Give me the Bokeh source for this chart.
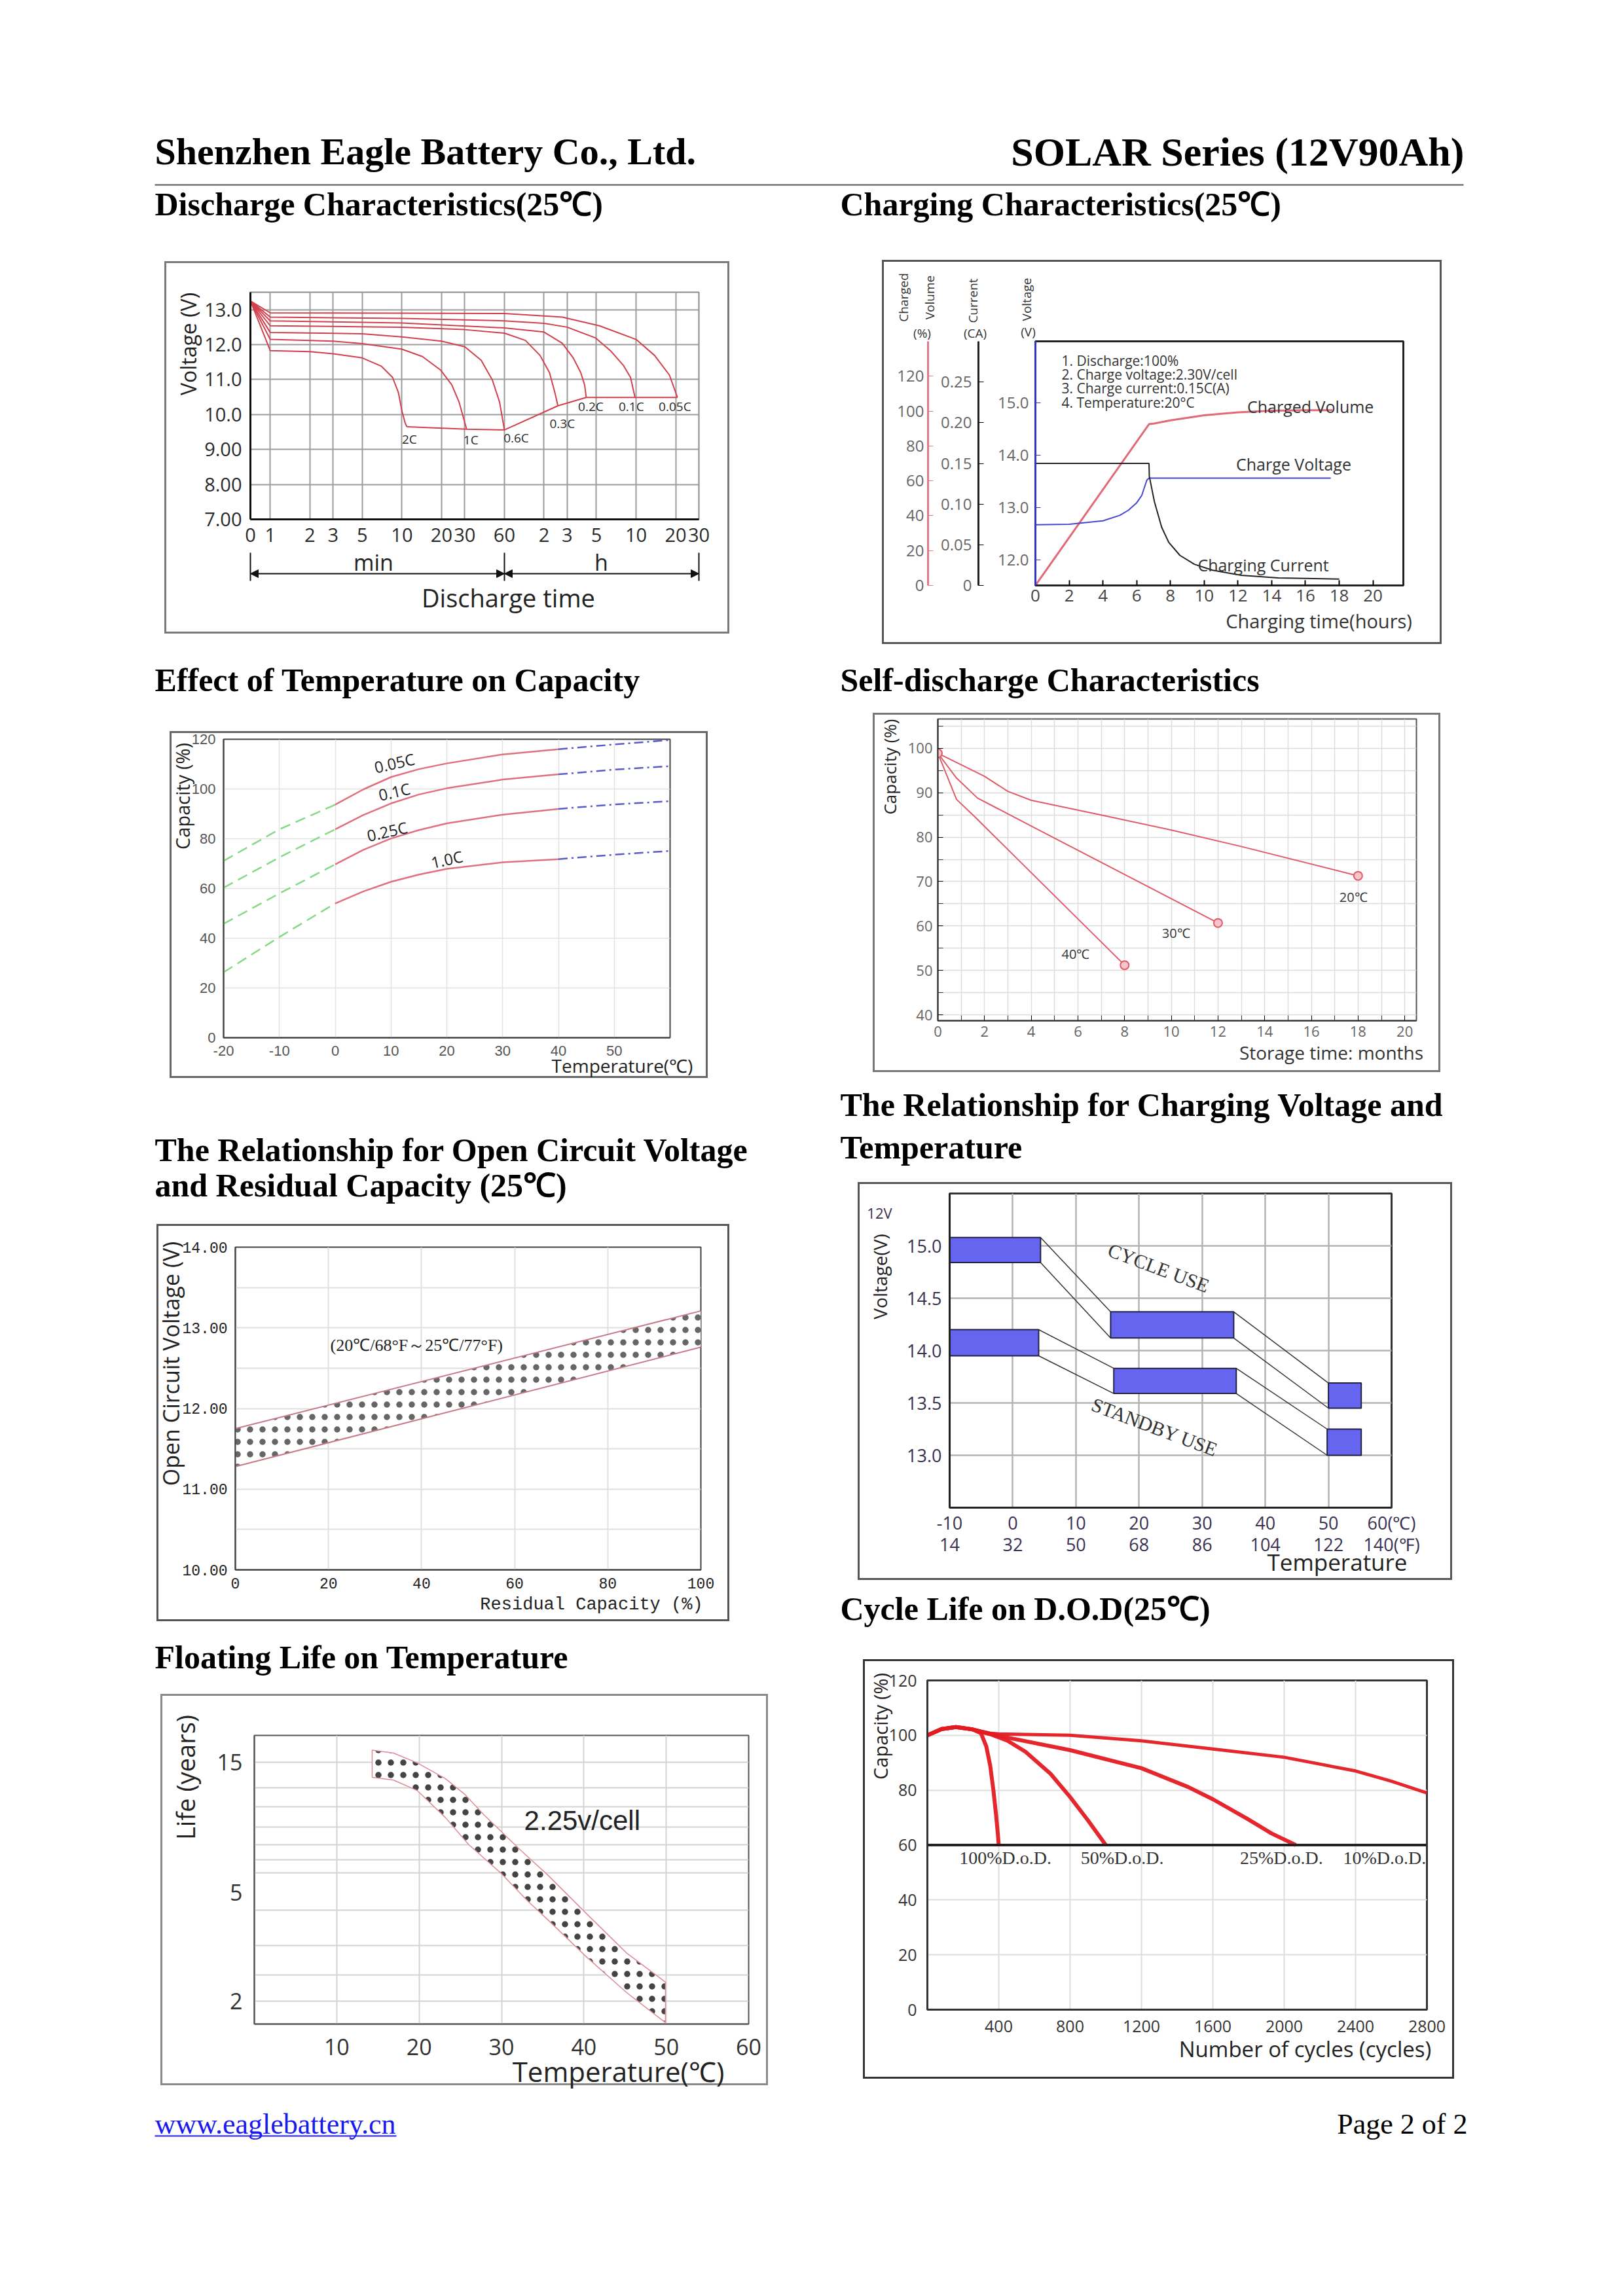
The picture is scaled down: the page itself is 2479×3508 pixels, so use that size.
import math
import numpy as np
from bokeh.plotting import figure
from bokeh.models import Range1d, LinearAxis, FixedTicker, Spacer, Arrow, NormalHead, Span, GridBox
from bokeh.layouts import column, row
from bokeh.core.properties import value
from bokeh.embed import file_html
from bokeh.resources import INLINE

SANS = "Open Sans"
SERIF = "Liberation Serif"
MONO = "Liberation Mono"
ARIAL = "Liberation Sans"

# ============================ DATA ============================
COMPANY = "Shenzhen Eagle Battery Co., Ltd."
SERIES = "SOLAR Series (12V90Ah)"
T_DIS = "Discharge Characteristics(25℃)"
T_CHG = "Charging Characteristics(25℃)"
T_TEMP = "Effect of Temperature on Capacity"
T_SELF = "Self-discharge Characteristics"
T_OCV = ["The Relationship for Open Circuit Voltage", "and Residual Capacity (25℃)"]
T_CVT = ["The Relationship for Charging Voltage and", "Temperature"]
T_FLOAT = "Floating Life on Temperature"
T_CYCLE = "Cycle Life on D.O.D(25℃)"
FOOT_LINK = "www.eaglebattery.cn"
FOOT_PAGE = "Page 2 of 2"

# 1) discharge characteristics (time in minutes, log axis; first tick = "0")
DIS_TICKS = [0.707, 1, 2, 3, 5, 10, 20, 30, 60, 120, 180, 300, 600, 1200, 1800]
DIS_TICK_LABELS = ["0", "1", "2", "3", "5", "10", "20", "30", "60", "2", "3", "5", "10", "20", "30"]
DIS_VTICKS = [7, 8, 9, 10, 11, 12, 13]
DIS_VLABELS = ["7.00", "8.00", "9.00", "10.0", "11.0", "12.0", "13.0"]
DIS_VRANGE = [7, 13.5]
DIS_RATES = ["2C", "1C", "0.6C", "0.3C", "0.2C", "0.1C", "0.05C"]
DIS_T = [
    [0.707, 1, 2, 3, 5, 7, 8.5, 9.4, 10, 10.6, 10.9],
    [0.707, 1, 3, 5, 10, 14.3, 19.7, 23.9, 27.2, 29.9, 31],
    [0.707, 1, 5, 10, 20, 30, 40, 48.6, 55.2, 60],
    [0.707, 1, 10, 30, 60, 86.7, 112, 132, 145, 153],
    [0.707, 1, 10, 60, 120, 165, 200, 228, 244, 251],
    [0.707, 1, 10, 60, 120, 180, 296, 383, 480, 545, 589],
    [0.707, 1, 10, 60, 165, 316, 600, 830, 1075, 1237],
]
DIS_V = [
    [13.25, 11.83, 11.80, 11.74, 11.62, 11.38, 11.06, 10.63, 10.10, 9.75, 9.65],
    [13.25, 12.15, 12.10, 12.03, 11.87, 11.66, 11.27, 10.85, 10.35, 9.79, 9.58],
    [13.25, 12.35, 12.31, 12.22, 12.10, 11.94, 11.55, 10.99, 10.35, 9.56],
    [13.25, 12.54, 12.50, 12.43, 12.33, 12.12, 11.69, 11.20, 10.63, 10.25],
    [13.25, 12.68, 12.62, 12.48, 12.36, 12.04, 11.62, 11.20, 10.85, 10.49],
    [13.25, 12.79, 12.75, 12.68, 12.61, 12.50, 12.19, 11.83, 11.41, 11.06, 10.49],
    [13.25, 12.91, 12.90, 12.89, 12.79, 12.54, 12.15, 11.69, 11.13, 10.49],
]
DIS_LAB_T = [11.4, 33.4, 73.8, 165, 272, 552, 1183]
DIS_LAB_V = [9.29, 9.28, 9.33, 9.75, 10.23, 10.23, 10.23]

# 2) charging characteristics
CH_TRANGE = [0, 21.8]
CH_TTICKS = [0, 2, 4, 6, 8, 10, 12, 14, 16, 18, 20]
CH_VRANGE = [11.51, 16.175]
CH_VTICKS = [12, 13, 14, 15]
CH_VLABELS = ["12.0", "13.0", "14.0", "15.0"]
CUR_RANGE = [0, 0.30]
CUR_TICKS = [0, 0.05, 0.10, 0.15, 0.20, 0.25]
CUR_LABELS = ["0", "0.05", "0.10", "0.15", "0.20", "0.25"]
VOL_RANGE = [0, 140]
VOL_TICKS = [0, 20, 40, 60, 80, 100, 120]
CV_T = [0, 2, 4, 5, 5.5, 6, 6.3, 6.6, 6.73, 17.5]
CV_V = [12.67, 12.68, 12.745, 12.85, 12.945, 13.09, 13.23, 13.52, 13.56, 13.56]
CC_T = [0, 6.73, 6.75, 7.05, 7.48, 7.9, 8.56, 9.42, 10.5, 12.2, 14.4, 18]
CC_A = [0.15, 0.15, 0.134, 0.103, 0.0716, 0.053, 0.037, 0.026, 0.0187, 0.0125, 0.0093, 0.0078]
CVOL_T = [0, 6.73, 7, 8, 10, 12, 14, 16, 17.6]
CVOL_P = [0, 92.5, 92.8, 94.7, 97.6, 99.3, 100.2, 100.5, 100.5]
CH_NOTES = ["1. Discharge:100%", "2. Charge voltage:2.30V/cell", "3. Charge current:0.15C(A)",
            "4. Temperature:20°C"]

# 3) effect of temperature on capacity
TC_T = [-20, -10, 0, 5, 10, 15, 20, 30, 40, 50, 60]
TC_RATES = ["0.05C", "0.1C", "0.25C", "1.0C"]
TC_CAP = [
    [71.1, 83.8, 93.7, 99.8, 104.8, 108.0, 110.3, 113.9, 116.0, 117.9, 119.7],
    [60.3, 72.5, 83.8, 89.5, 94.2, 97.8, 100.3, 103.8, 105.9, 107.8, 109.2],
    [45.8, 58.0, 69.7, 75.5, 80.1, 83.5, 86.2, 89.7, 92.0, 93.8, 95.1],
    [26.3, 40.5, 54.0, 58.8, 62.7, 65.6, 67.9, 70.5, 71.8, 73.6, 75.1],
]
TC_LAB_T = [10.6, 10.6, 9.3, 20.0]
TC_LAB_C = [110.5, 99.0, 83.0, 71.8]
TC_XTICKS = [-20, -10, 0, 10, 20, 30, 40, 50]
TC_XLABELS = ["-20", "-10", "0", "10", "20", "30", "40", "50"]
TC_YTICKS = [0, 20, 40, 60, 80, 100, 120]

# 4) self-discharge
SD_LABELS = ["20℃", "30℃", "40℃"]
SD_T = [[0, 2, 3, 4, 7, 10, 13, 18],
        [0, 0.8, 1.7, 4, 8, 12],
        [0, 0.8, 1.6, 4, 8]]
SD_C = [[98.9, 93.7, 90.3, 88.3, 85.0, 81.6, 77.9, 71.3],
        [98.9, 93.3, 88.8, 82.5, 71.6, 60.7],
        [98.9, 88.5, 84.5, 72.0, 51.2]]
SD_LAB_T = [17.8, 10.2, 5.9]
SD_LAB_C = [66.6, 58.4, 53.7]
SD_XTICKS = [0, 2, 4, 6, 8, 10, 12, 14, 16, 18, 20]
SD_YTICKS = [40, 50, 60, 70, 80, 90, 100]

# 5) open circuit voltage vs residual capacity
OCV_X = [0, 100]
OCV_HI = [11.75, 13.21]
OCV_LO = [11.28, 12.76]
OCV_XTICKS = [0, 20, 40, 60, 80, 100]
OCV_YTICKS = [10, 11, 12, 13, 14]
OCV_YLABELS = ["10.00", "11.00", "12.00", "13.00", "14.00"]
OCV_NOTE = "(20℃/68°F～25℃/77°F)"

# 6) charging voltage vs temperature
CVT_CTICKS = [-10, 0, 10, 20, 30, 40, 50, 60]
CVT_CLABELS = ["-10", "0", "10", "20", "30", "40", "50", "60(℃)"]
CVT_FLABELS = ["14", "32", "50", "68", "86", "104", "122", "140(℉)"]
CVT_VTICKS = [13.0, 13.5, 14.0, 14.5, 15.0]
CVT_VLABELS = ["13.0", "13.5", "14.0", "14.5", "15.0"]
CYC_T0 = [-10, 15.5, 50.0]
CYC_T1 = [4.4, 35.0, 55.2]
CYC_V0 = [14.84, 14.12, 13.45]
CYC_V1 = [15.08, 14.37, 13.69]
STB_T0 = [-10, 16.0, 49.8]
STB_T1 = [4.1, 35.4, 55.2]
STB_V0 = [13.95, 13.59, 13.00]
STB_V1 = [14.20, 13.83, 13.25]

# 7) floating life
FL_UP_T = [14.3, 16.9, 19.8, 23.2, 25.6, 27.9, 29.9, 32.2, 35.6, 40.4, 45.2, 49.9]
FL_UP_L = [16.6, 16.2, 14.9, 13.05, 11.4, 9.6, 8.4, 7.2, 5.8, 4.16, 3.0, 2.35]
FL_LO_T = [14.3, 16.9, 19.8, 23.2, 26.0, 29.9, 33.2, 35.6, 40.4, 45.2, 49.9]
FL_LO_L = [13.2, 12.9, 11.8, 9.4, 7.5, 5.9, 4.65, 3.98, 2.89, 2.15, 1.67]
FL_XTICKS = [10, 20, 30, 40, 50, 60]
FL_YTICKS = [2, 5, 15]
FL_YGRID = [2, 2.5, 3.2, 4.3, 5.9, 6.6, 7.5, 8.7, 10.3, 12.1, 15]

# 8) cycle life on DOD
CL_LABELS = ["100%D.o.D.", "50%D.o.D.", "25%D.o.D.", "10%D.o.D."]
CL_N = [[0, 80, 160, 250, 300, 330, 352, 370, 385, 395, 400],
        [0, 80, 160, 250, 350, 450, 550, 690, 800, 900, 1000],
        [0, 80, 160, 250, 350, 400, 800, 1200, 1460, 1600, 1790, 1930, 2065],
        [0, 80, 160, 250, 350, 400, 800, 1200, 1600, 2000, 2400, 2600, 2800]]
CL_C = [[100, 102.3, 103, 102.2, 100.8, 96, 89, 80, 71, 64, 60],
        [100, 102.3, 103, 102.2, 100.5, 98, 94, 86, 77.5, 69, 60],
        [100, 102.3, 103, 102.2, 100.5, 99.8, 94.6, 88, 81.2, 76.7, 69.7, 64.2, 60],
        [100, 102.3, 103, 102.2, 100.8, 100.5, 100, 98, 95, 92, 87, 83.3, 79]]
CL_LAB_N = [437, 1092, 1985, 2563]
CL_LIMIT = 60
CL_XTICKS = [400, 800, 1200, 1600, 2000, 2400, 2800]
CL_YTICKS = [0, 20, 40, 60, 80, 100, 120]


# ============================ HELPERS ============================
def make_chart(w, h, bl, br, bt, bb, box="#666666", **kw):
    return figure(width=w, height=h, output_backend="svg", toolbar_location=None,
                  min_border_left=bl, min_border_right=br, min_border_top=bt, min_border_bottom=bb,
                  border_fill_color=None, background_fill_color="white",
                  styles={"outline": "3px solid " + box, "outline-offset": "-3px"}, **kw)


def style_axis(ax, font, size, color="#333333", line_color="#222222", line_width=2):
    ax.major_label_text_font = font
    ax.major_label_text_font_size = size
    ax.major_label_text_color = color
    ax.axis_line_color = line_color
    ax.axis_line_width = line_width
    ax.minor_tick_line_color = None


def hidden_pad(ax, pad):
    ax.axis_label = "."
    ax.axis_label_text_alpha = 0
    ax.axis_label_text_font_size = "2px"
    ax.axis_label_standoff = pad


# ============================ 1 DISCHARGE ============================
p1 = make_chart(863, 569, 131, 47, 47, 175, box="#7a7a7a", x_axis_type="log",
                x_range=Range1d(DIS_TICKS[0], DIS_TICKS[-1]),
                y_range=Range1d(DIS_VRANGE[0], DIS_VRANGE[1]))
p1.xaxis.ticker = FixedTicker(ticks=DIS_TICKS, minor_ticks=[])
p1.xgrid.ticker = FixedTicker(ticks=DIS_TICKS, minor_ticks=[])
p1.xaxis.major_label_overrides = dict(zip(DIS_TICKS, DIS_TICK_LABELS))
p1.yaxis.ticker = FixedTicker(ticks=DIS_VTICKS, minor_ticks=[])
p1.ygrid.ticker = FixedTicker(ticks=DIS_VTICKS, minor_ticks=[])
p1.yaxis.major_label_overrides = dict(zip(DIS_VTICKS, DIS_VLABELS))
for ax in (p1.xaxis[0], p1.yaxis[0]):
    style_axis(ax, SANS, "29px", "#2a2a2a", "#111111", 3)
    ax.major_tick_line_color = None
    ax.major_label_standoff = 7
p1.grid.grid_line_color = "#9c9c9c"
p1.grid.grid_line_width = 2
p1.outline_line_color = "#8c8c8c"
p1.outline_line_width = 2
RED1 = "#d2404e"
for t, v in zip(DIS_T, DIS_V):
    p1.line(t, v, line_color=RED1, line_width=2)
p1.line([t[-1] for t in DIS_T], [v[-1] for v in DIS_V], line_color=RED1, line_width=2)
p1.text(DIS_LAB_T, DIS_LAB_V, DIS_RATES, text_font=value(SANS), text_font_size="19px",
        text_color="#2a2a2a", text_align="center", text_baseline="middle")

# ============================ 2 CHARGING ============================
p2 = make_chart(855, 587, 234, 59, 124, 90, box="#555555",
                x_range=Range1d(CH_TRANGE[0], CH_TRANGE[1]),
                y_range=Range1d(CH_VRANGE[0], CH_VRANGE[1]))
p2.extra_y_ranges = {"cur": Range1d(CUR_RANGE[0], CUR_RANGE[1]),
                     "vol": Range1d(VOL_RANGE[0], VOL_RANGE[1])}
p2.grid.visible = False
p2.outline_line_color = "#222222"
p2.outline_line_width = 3
xa = p2.xaxis[0]
xa.ticker = FixedTicker(ticks=CH_TTICKS, minor_ticks=[])
style_axis(xa, SANS, "26px", "#444444", "#222222", 3)
xa.major_tick_in = 8
xa.major_tick_out = 0
xa.major_tick_line_width = 2
xa.major_label_standoff = 6
BLUE2 = "#3535c8"
ya = p2.yaxis[0]
ya.ticker = FixedTicker(ticks=CH_VTICKS, minor_ticks=[])
ya.major_label_overrides = dict(zip(CH_VTICKS, CH_VLABELS))
style_axis(ya, SANS, "24px", "#666666", BLUE2, 3)
ya.major_tick_line_color = BLUE2
ya.major_tick_in = 8
ya.major_tick_out = 0
ya.major_label_standoff = 10
hidden_pad(ya, 23)
cur_ax = LinearAxis(y_range_name="cur", ticker=FixedTicker(ticks=CUR_TICKS, minor_ticks=[]),
                    major_label_overrides=dict(zip(CUR_TICKS, CUR_LABELS)))
style_axis(cur_ax, SANS, "24px", "#666666", "#222222", 3)
cur_ax.major_tick_in = 8
cur_ax.major_tick_out = 0
cur_ax.major_label_standoff = 10
hidden_pad(cur_ax, 13)
vol_ax = LinearAxis(y_range_name="vol", ticker=FixedTicker(ticks=VOL_TICKS, minor_ticks=[]))
style_axis(vol_ax, SANS, "24px", "#666666", "#e07a88", 3)
vol_ax.major_tick_line_color = "#e07a88"
vol_ax.major_tick_in = 8
vol_ax.major_tick_out = 0
vol_ax.major_label_standoff = 6
p2.add_layout(cur_ax, "left")
p2.add_layout(vol_ax, "left")
p2.line(CVOL_T, CVOL_P, y_range_name="vol", line_color="#e06a78", line_width=3)
p2.line(CV_T, CV_V, line_color="#4545d0", line_width=2)
p2.line(CC_T, CC_A, y_range_name="cur", line_color="#222222", line_width=2)
p2.text([1.55] * 4, [15.81, 15.54, 15.275, 15.0], CH_NOTES, text_font=value(SANS),
        text_font_size="21px", text_color="#333333", text_baseline="middle")
p2.text([16.3, 15.3, 13.5], [14.93, 13.83, 11.91],
        ["Charged Volume", "Charge Voltage", "Charging Current"], text_font=value(SANS),
        text_font_size="25px", text_color="#333333", text_align="center", text_baseline="middle")

# ============================ 3 TEMPERATURE ============================
p3 = make_chart(822, 530, 82, 58, 12, 62, box="#666666",
                x_range=Range1d(-20, 60), y_range=Range1d(0, 120))
p3.xaxis.ticker = FixedTicker(ticks=TC_XTICKS, minor_ticks=[])
p3.xaxis.major_label_overrides = dict(zip(TC_XTICKS, TC_XLABELS))
p3.xgrid.ticker = FixedTicker(ticks=TC_XTICKS + [60], minor_ticks=[])
p3.yaxis.ticker = FixedTicker(ticks=TC_YTICKS, minor_ticks=[])
for ax in (p3.xaxis[0], p3.yaxis[0]):
    style_axis(ax, ARIAL, "22px", "#555555", "#444444", 2)
    ax.major_tick_line_color = None
    ax.major_label_standoff = 6
p3.grid.grid_line_color = "#e2e2e2"
p3.grid.grid_line_width = 1.5
p3.outline_line_color = "#444444"
p3.outline_line_width = 2
tt = np.array(TC_T)
for cap in TC_CAP:
    c = np.array(cap)
    m = tt <= 0
    p3.line(tt[m], c[m], line_color="#86d986", line_width=2.5, line_dash="16 9")
    m = (tt >= 0) & (tt <= 40)
    p3.line(tt[m], c[m], line_color="#e0707e", line_width=2.5)
    m = tt >= 40
    p3.line(tt[m], c[m], line_color="#5a5ac8", line_width=2.5, line_dash="14 6 3 6")
p3.text(TC_LAB_T, TC_LAB_C, TC_RATES, text_font=value(SANS), text_font_size="24px",
        text_color="#222222", text_align="center", text_baseline="middle", angle=0.22)

# ============================ 4 SELF DISCHARGE ============================
p4 = make_chart(867, 549, 99, 37, 9, 79, box="#777777",
                x_range=Range1d(0, 20.5), y_range=Range1d(38.7, 106.6))
p4.xaxis.ticker = FixedTicker(ticks=SD_XTICKS, minor_ticks=list(range(1, 21, 2)))
p4.yaxis.ticker = FixedTicker(ticks=SD_YTICKS, minor_ticks=list(range(45, 106, 10)))
p4.xgrid.ticker = FixedTicker(ticks=list(range(0, 21)), minor_ticks=[])
p4.ygrid.ticker = FixedTicker(ticks=list(range(40, 106, 5)), minor_ticks=[])
for ax in (p4.xaxis[0], p4.yaxis[0]):
    style_axis(ax, SANS, "22px", "#666666", "#333333", 2)
    ax.major_tick_in = 8
    ax.major_tick_out = 0
    ax.minor_tick_line_color = "#333333"
    ax.minor_tick_in = 8
    ax.minor_tick_out = 0
    ax.major_label_standoff = 8
p4.grid.grid_line_color = "#dcdcdc"
p4.grid.grid_line_width = 1.5
p4.outline_line_color = "#555555"
p4.outline_line_width = 2
for t, c in zip(SD_T, SD_C):
    p4.line(t, c, line_color="#e05a68", line_width=2)
p4.scatter([SD_T[0][0]] + [t[-1] for t in SD_T], [SD_C[0][0]] + [c[-1] for c in SD_C],
           marker="circle", size=13, fill_color="#f6c6cc", line_color="#e05a68", line_width=2)
p4.text(SD_LAB_T, SD_LAB_C, SD_LABELS, text_font=value(SANS), text_font_size="20px",
        text_color="#333333", text_align="center", text_baseline="middle")

# ============================ 5 OCV ============================
p5 = make_chart(875, 607, 120, 44, 35, 79, box="#555555",
                x_range=Range1d(0, 100), y_range=Range1d(10, 14))
p5.xaxis.ticker = FixedTicker(ticks=OCV_XTICKS, minor_ticks=[])
p5.yaxis.ticker = FixedTicker(ticks=OCV_YTICKS, minor_ticks=[])
p5.yaxis.major_label_overrides = dict(zip(OCV_YTICKS, OCV_YLABELS))
p5.ygrid.ticker = FixedTicker(ticks=[10 + 0.5 * i for i in range(9)], minor_ticks=[])
for ax in (p5.xaxis[0], p5.yaxis[0]):
    style_axis(ax, MONO, "23px", "#222222", "#444444", 2)
    ax.major_tick_line_color = None
    ax.major_label_standoff = 6
p5.yaxis.major_label_text_baseline = "bottom"
p5.grid.grid_line_color = "#e0e0e0"
p5.grid.grid_line_width = 2
p5.outline_line_color = "#444444"
p5.outline_line_width = 2
p5.varea(x=OCV_X, y1=OCV_LO, y2=OCV_HI, fill_color="white", hatch_pattern=".",
         hatch_color="#666666", hatch_scale=19, hatch_weight=1)
p5.line(OCV_X, OCV_HI, line_color="#c87a88", line_width=2)
p5.line(OCV_X, OCV_LO, line_color="#c87a88", line_width=2)
p5.text([20.4], [12.787], [OCV_NOTE], text_font=value(SERIF), text_font_size="26px",
        text_color="#222222", text_baseline="middle")

# ============================ 6 CHARGING VOLTAGE vs TEMP ============================
p6 = make_chart(908, 608, 140, 93, 17, 111, box="#555555",
                x_range=Range1d(-10, 60), y_range=Range1d(12.5, 15.5))
xa6 = p6.xaxis[0]
xa6.ticker = FixedTicker(ticks=CVT_CTICKS, minor_ticks=[])
xa6.major_label_overrides = dict(zip(CVT_CTICKS, CVT_CLABELS))
f_ax = LinearAxis(ticker=FixedTicker(ticks=CVT_CTICKS, minor_ticks=[]),
                  major_label_overrides=dict(zip(CVT_CTICKS, CVT_FLABELS)))
p6.add_layout(f_ax, "below")
p6.yaxis.ticker = FixedTicker(ticks=CVT_VTICKS, minor_ticks=[])
p6.yaxis.major_label_overrides = dict(zip(CVT_VTICKS, CVT_VLABELS))
for ax in (xa6, f_ax, p6.yaxis[0]):
    style_axis(ax, SANS, "27px", "#3a3050", "#222222", 3)
    ax.major_tick_line_color = None
    ax.major_label_standoff = 6
xa6.major_label_standoff = -2
f_ax.axis_line_color = None
f_ax.major_label_standoff = -13
p6.xgrid.ticker = FixedTicker(ticks=CVT_CTICKS, minor_ticks=[])
p6.grid.grid_line_color = "#b4b4b4"
p6.grid.grid_line_width = 2.5
p6.outline_line_color = "#333333"
p6.outline_line_width = 3
for T0, T1, V0, V1 in [(CYC_T0, CYC_T1, CYC_V0, CYC_V1), (STB_T0, STB_T1, STB_V0, STB_V1)]:
    p6.segment(x0=T1[:-1], y0=V1[:-1], x1=T0[1:], y1=V1[1:], line_color="#333333", line_width=1.5)
    p6.segment(x0=T1[:-1], y0=V0[:-1], x1=T0[1:], y1=V0[1:], line_color="#333333", line_width=1.5)
    p6.quad(left=T0, right=T1, bottom=V0, top=V1, fill_color="#6565f0",
            line_color="#222244", line_width=2)
p6.text([23.1, 22.5], [14.79, 13.27], ["CYCLE USE", "STANDBY USE"], text_font=value(SERIF),
        text_font_size="30px", text_color="#333333", text_align="center",
        text_baseline="middle", angle=-0.36)

# ============================ 7 FLOATING LIFE ============================
p7 = make_chart(928, 598, 143, 30, 63, 94, box="#8a8a8a", y_axis_type="log",
                x_range=Range1d(0, 60), y_range=Range1d(1.65, 18.8))
p7.xaxis.ticker = FixedTicker(ticks=FL_XTICKS, minor_ticks=[])
p7.xgrid.ticker = FixedTicker(ticks=FL_XTICKS[:-1], minor_ticks=[])
p7.yaxis.ticker = FixedTicker(ticks=FL_YTICKS, minor_ticks=[])
p7.yaxis.major_label_overrides = {v: str(v) for v in FL_YTICKS}
p7.ygrid.ticker = FixedTicker(ticks=FL_YGRID, minor_ticks=[])
for ax in (p7.xaxis[0], p7.yaxis[0]):
    style_axis(ax, SANS, "34px", "#333333", "#555555", 2)
    ax.major_tick_line_color = None
    ax.major_label_standoff = 12
p7.xaxis.major_label_standoff = 16
p7.grid.grid_line_color = "#d4d4d4"
p7.grid.grid_line_width = 2
p7.outline_line_color = "#555555"
p7.outline_line_width = 2
p7.patch(FL_UP_T + FL_LO_T[::-1], FL_UP_L + FL_LO_L[::-1], fill_color="white",
         hatch_pattern=".", hatch_color="#444444", hatch_scale=19, hatch_weight=1,
         line_color="#e08a98", line_width=1.5)
p7.text([39.8], [9.17], ["2.25v/cell"], text_font=value(ARIAL), text_font_size="42px",
        text_color="#222222", text_align="center", text_baseline="middle")

# ============================ 8 CYCLE LIFE ============================
p8 = make_chart(903, 641, 98, 42, 32, 106, box="#333333",
                x_range=Range1d(0, 2800), y_range=Range1d(0, 120))
p8.xaxis.ticker = FixedTicker(ticks=CL_XTICKS, minor_ticks=[])
p8.xgrid.ticker = FixedTicker(ticks=CL_XTICKS[:-1], minor_ticks=[])
p8.yaxis.ticker = FixedTicker(ticks=CL_YTICKS, minor_ticks=[])
for ax in (p8.xaxis[0], p8.yaxis[0]):
    style_axis(ax, SANS, "25px", "#333333", "#333333", 3)
    ax.major_tick_line_color = None
    ax.major_label_standoff = 10
p8.grid.grid_line_color = "#dddddd"
p8.grid.grid_line_width = 2
p8.outline_line_color = "#333333"
p8.outline_line_width = 3
p8.add_layout(Span(location=CL_LIMIT, dimension="width", line_color="#222222", line_width=4))
for i, (n, c) in enumerate(zip(CL_N, CL_C)):
    p8.line(n, c, line_color="#e41a22", line_width=5 if i == 3 else 6, line_alpha=0.95)
p8.text(CL_LAB_N, [55.3] * 4, CL_LABELS, text_font=value(SERIF), text_font_size="28px",
        text_color="#333333", text_align="center", text_baseline="middle")

# ============================ PAGE LAYOUT ============================
ORIGIN = 1          # page position of the layout's top-left corner
W, H = 2463, 3329   # page area used
ROW_TOP = 396
COL_SPLIT = 1240


def placed(p, box_x, col_x, box_w, box_h):
    return row(Spacer(width=box_x - col_x, height=box_h), p)


left = column(
    Spacer(width=COL_SPLIT - ORIGIN, height=400 - ROW_TOP),
    placed(p1, 252, ORIGIN, 863, 569),
    Spacer(width=10, height=1118 - 969),
    placed(p3, 260, ORIGIN, 822, 530),
    Spacer(width=10, height=1871 - 1648),
    placed(p5, 240, ORIGIN, 875, 607),
    Spacer(width=10, height=2589 - 2478),
    placed(p7, 246, ORIGIN, 928, 598),
)
right = column(
    Spacer(width=W + ORIGIN - COL_SPLIT, height=398 - ROW_TOP),
    placed(p2, 1348, COL_SPLIT, 855, 587),
    Spacer(width=10, height=1090 - 985),
    placed(p4, 1334, COL_SPLIT, 867, 549),
    Spacer(width=10, height=1807 - 1639),
    placed(p6, 1311, COL_SPLIT, 908, 608),
    Spacer(width=10, height=2536 - 2415),
    placed(p8, 1319, COL_SPLIT, 903, 641),
)
base = column(Spacer(width=W, height=ROW_TOP - ORIGIN), row(left, right),
              Spacer(width=W, height=ORIGIN + H - 3187))

# transparent overlay in page pixel coordinates for all page / axis-title texts
ov = figure(width=W, height=H, x_range=Range1d(ORIGIN, ORIGIN + W), y_range=Range1d(ORIGIN + H, ORIGIN),
            x_axis_type=None, y_axis_type=None, output_backend="svg", toolbar_location=None,
            min_border=0, border_fill_color=None, background_fill_color=None, outline_line_color=None)


def otext(x, y, t, size, font=SANS, style="normal", color="#222222", align="center", angle=0.0):
    ov.text(x=[x], y=[y], text=[t], text_font=value(font), text_font_style=style,
            text_font_size=size, text_color=color, text_align=align, text_baseline="middle",
            angle=angle)


UP = math.pi / 2
# header
otext(237, 232, COMPANY, "58px", SERIF, "bold", "#000000", "left")
otext(2237, 232, SERIES, "62px", SERIF, "bold", "#000000", "right")
ov.segment(x0=[237], y0=[283], x1=[2236], y1=[283], line_color="#555555", line_width=2)
# section titles
for x, y, t in [(237, 312, T_DIS), (1284, 312, T_CHG), (237, 1039, T_TEMP), (1284, 1039, T_SELF),
                (237, 1757, T_OCV[0]), (237, 1811, T_OCV[1]), (1284, 1688, T_CVT[0]),
                (1284, 1753, T_CVT[1]), (237, 2532, T_FLOAT), (1284, 2458, T_CYCLE)]:
    otext(x, y, t, "50px", SERIF, "bold", "#000000", "left")
# footer
otext(237, 3246, FOOT_LINK, "44px", SERIF, "normal", "#1a1aee", "left")
ov.segment(x0=[237], y0=[3264], x1=[606], y1=[3264], line_color="#1a1aee", line_width=2)
otext(2242, 3246, FOOT_PAGE, "44px", SERIF, "normal", "#000000", "right")

# chart 1 axis titles and time-unit bar
otext(288, 526, "Voltage (V)", "32px", angle=UP)
otext(571, 859, "min", "34px")
otext(919, 859, "h", "34px")
otext(777, 913, "Discharge time", "38px")
head = dict(size=12, fill_color="#111111", line_color="#111111")
for a, b in [(383, 771), (771, 1068)]:
    ov.add_layout(Arrow(start=NormalHead(**head), end=NormalHead(**head), x_start=a, x_end=b,
                        y_start=877, y_end=877, line_color="#111111", line_width=2))
ov.segment(x0=[383, 771, 1068], y0=[845] * 3, x1=[383, 771, 1068], y1=[888] * 3,
           line_color="#111111", line_width=2)
# chart 2
otext(2015, 949, "Charging time(hours)", "29px", color="#333333")
for x, y, t in [(1380, 455, "Charged"), (1420, 455, "Volume"), (1486, 460, "Current"),
                (1568, 458, "Voltage")]:
    otext(x, y, t, "19px", color="#333333", angle=UP)
for x, y, t in [(1409, 509, "(%)"), (1490, 509, "(CA)"), (1571, 507, "(V)")]:
    otext(x, y, t, "19px", color="#333333")
# chart 3
otext(279, 1217, "Capacity (%)", "29px", angle=UP)
otext(951, 1628, "Temperature(℃)", "28px")
# chart 4
otext(1359, 1172, "Capacity (%)", "26px", angle=UP)
otext(2034, 1608, "Storage time: months", "28px", color="#333333")
# chart 5
otext(261, 2084, "Open Circuit Voltage (V)", "34px", angle=UP)
otext(904, 2452, "Residual Capacity (%)", "27px", MONO)
# chart 6
otext(1344, 1853, "12V", "22px", color="#3a3050")
otext(1344, 1951, "Voltage(V)", "28px", angle=UP)
otext(2043, 2387, "Temperature", "35px")
# chart 7
otext(283, 2716, "Life (years)", "38px", angle=UP)
otext(945, 3165, "Temperature(℃)", "42px")
# chart 8
otext(1345, 2638, "Capacity (%)", "29px", angle=UP)
otext(1994, 3131, "Number of cycles (cycles)", "33px")

page = GridBox(children=[(base, 0, 0), (ov, 0, 0)])

open("out.html", "w").write(file_html(page, INLINE))
